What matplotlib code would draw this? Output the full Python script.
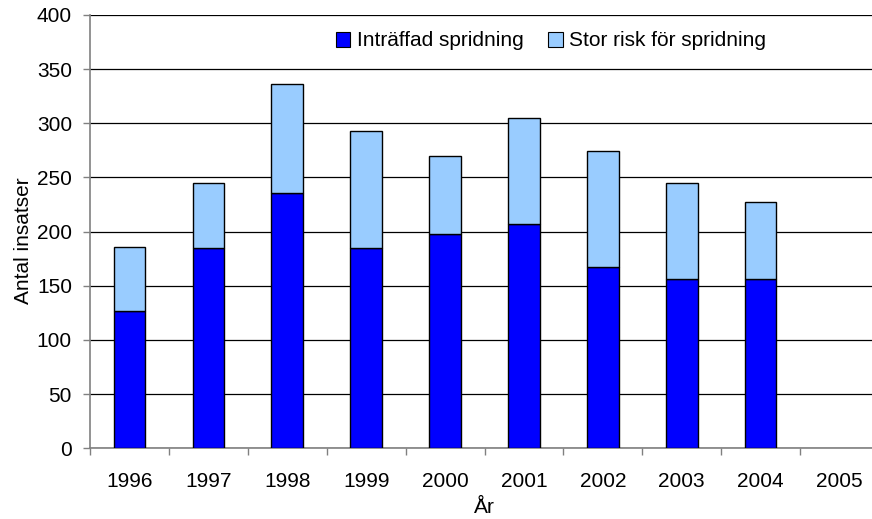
import matplotlib
matplotlib.use("Agg")
import matplotlib.pyplot as plt
from matplotlib.patches import Patch
import numpy as np

plt.rcParams['font.family'] = ['Liberation Sans', 'DejaVu Sans']

years = ["1996", "1997", "1998", "1999", "2000", "2001", "2002", "2003", "2004", "2005"]
intraffad = [127, 185, 236, 185, 198, 207, 167, 156, 156, 0]
totalt = [186, 245, 336, 293, 270, 305, 274, 245, 227, 0]
stor_risk = [t - i for t, i in zip(totalt, intraffad)]

W, H = 872, 519
FS = 15
fig = plt.figure(figsize=(W / 100, H / 100), dpi=100)
ax = fig.add_axes([90 / W, (H - 448.3) / H, (W - 90) / W, (448.3 - 15) / H])

x = np.arange(len(years))
dark = "#0000FF"
light = "#99CCFF"
edges_d = ["black" if v > 0 else "none" for v in intraffad]
edges_l = ["black" if v > 0 else "none" for v in stor_risk]
ax.bar(x, intraffad, width=0.40, color=dark, edgecolor=edges_d, linewidth=1.0, zorder=3)
ax.bar(x, stor_risk, width=0.40, bottom=intraffad, color=light, edgecolor=edges_l,
       linewidth=1.0, zorder=3)

ax.set_ylim(0, 400)
ax.set_yticks(np.arange(0, 401, 50))
ax.set_xlim(-0.5, 9.5 - 7 / 78.9)

ax.yaxis.grid(True, color="black", linewidth=0.9, zorder=0)
ax.set_axisbelow(True)

for s in ["top", "right"]:
    ax.spines[s].set_visible(False)
for s in ["left", "bottom"]:
    ax.spines[s].set_color("#808080")
    ax.spines[s].set_linewidth(1.2)

ax.set_xticks(x)
ax.set_xticklabels(years)
ax.set_xticks(np.arange(-0.5, 9.5, 1.0), minor=True)
ax.tick_params(axis="x", which="major", length=0, pad=17, labelsize=FS)
ax.tick_params(axis="x", which="minor", length=5, color="#808080", width=1.0)
ax.tick_params(axis="y", length=5, color="#808080", width=1.0, pad=8, labelsize=FS)

ax.set_ylabel("Antal insatser", fontsize=FS)
ax.yaxis.set_label_coords(-0.073, 0.48)
ax.set_xlabel("År", fontsize=FS)
ax.xaxis.set_label_coords((484.5 - 90) / (W - 90), -0.115)

handles = [Patch(facecolor=dark, edgecolor="black", linewidth=0.8),
           Patch(facecolor=light, edgecolor="black", linewidth=0.8)]
fig.legend(handles, ["Inträffad spridning", "Stor risk för spridning"],
           loc="center", bbox_to_anchor=(551 / W, (H - 41) / H), ncol=2, frameon=False,
           fontsize=FS, handlelength=0.7, handleheight=0.7, handletextpad=0.3,
           columnspacing=1.2)

fig.savefig("out.png", dpi=100)
